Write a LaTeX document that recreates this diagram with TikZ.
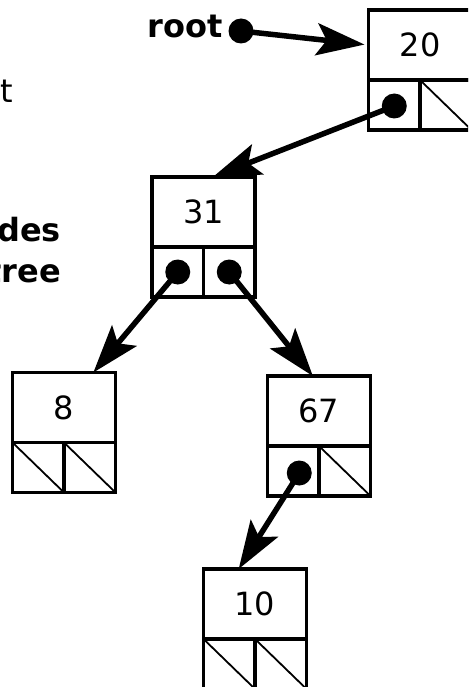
\documentclass[tikz,border=0pt]{standalone}
\usepackage{fontspec}
\setmainfont{DejaVu Sans}
\usetikzlibrary{positioning,arrows.meta}

\begin{document}
\begin{tikzpicture}[x=1pt, y=-1pt,
    every node/.append style={font=\fontsize{32}{38}\selectfont, outer sep=0pt},
    key/.style={draw, line width=3.2pt, minimum width=103pt, minimum height=70pt, inner sep=0pt},
    cell/.style={draw, line width=3.2pt, minimum width=51.5pt, minimum height=50pt, inner sep=0pt},
    nil/.style={cell, path picture={\draw[line width=1.8pt] (path picture bounding box.north west) -- (path picture bounding box.south east);}},
    ptr/.style={circle, fill=black, inner sep=0pt, minimum size=25pt},
    lbl/.style={inner sep=0pt, anchor=base east},
    link/.style={-{Stealth[length=48pt 0, width=32pt 0, inset=10pt 0]}, line width=5.5pt}]
    \path[use as bounding box, clip] (0,0) rectangle (468,687);

    % text at the left edge
    \node[lbl] (note) at (13,103) {t};
    \node[lbl, font=\fontsize{32}{38}\selectfont\bfseries] (nodes) at (61,241) {des};
    \node[lbl, font=\fontsize{32}{38}\selectfont\bfseries] (tree) at (61,282) {tree};

    % the nodes of the tree
    \node[key] (n20) at (420,45) {20};
    \node[cell, below right=0pt and 0pt of n20.south west] (n20l) {};
    \node[nil, below left=0pt and 0pt of n20.south east] (n20r) {};

    \node[key] (n31) at (203.5,212) {31};
    \node[cell, below right=0pt and 0pt of n31.south west] (n31l) {};
    \node[cell, below left=0pt and 0pt of n31.south east] (n31r) {};

    \node[key] (n8) at (64,407.5) {8};
    \node[nil, below right=0pt and 0pt of n8.south west] (n8l) {};
    \node[nil, below left=0pt and 0pt of n8.south east] (n8r) {};

    \node[key] (n67) at (319,411) {67};
    \node[cell, below right=0pt and 0pt of n67.south west] (n67l) {};
    \node[nil, below left=0pt and 0pt of n67.south east] (n67r) {};

    \node[key] (n10) at (255,604) {10};
    \node[nil, below right=0pt and 0pt of n10.south west] (n10l) {};
    \node[nil, below left=0pt and 0pt of n10.south east] (n10r) {};

    % pointers
    \node[lbl, font=\fontsize{32}{38}\selectfont\bfseries] (rootlbl) at (223,38) {root};
    \node[ptr] (proot) at (241,31) {};
    \node[ptr, yshift=-1pt] (p20) at (n20l.center) {};
    \node[ptr] (p31l) at (n31l.center) {};
    \node[ptr] (p31r) at (n31r.center) {};
    \node[ptr, xshift=6pt, yshift=-2pt] (p67) at (n67l.center) {};

    \draw[link, shorten >=4pt] (proot.center) -- (n20.west);
    \draw[link] (p20.center) -- (n31.75);
    \draw[link] (p31l.center) -- (n8.50);
    \draw[link] (p31r.center) -- (n67.100);
    \draw[link] (p67.center) -- (n10.115);
\end{tikzpicture}
\end{document}
